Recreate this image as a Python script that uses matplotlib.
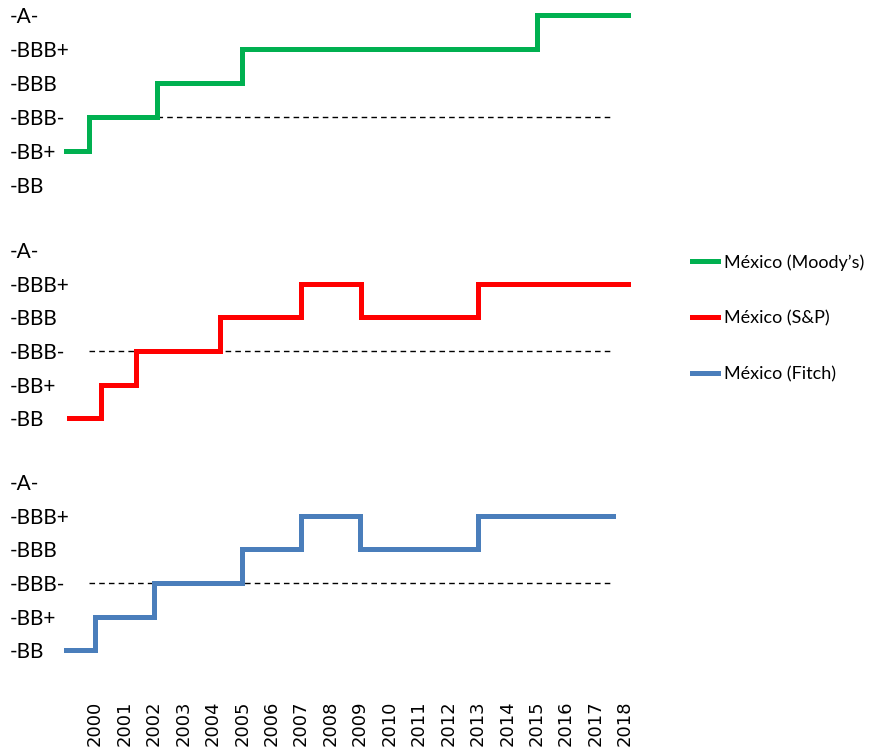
import matplotlib.pyplot as plt
from matplotlib.lines import Line2D

# Escala de calificaciones (de menor a mayor)
calificaciones = ["-BB", "-BB+", "-BBB-", "-BBB", "-BBB+", "-A-"]
anios = list(range(2000, 2019))

# Cambios de calificación: fecha (año fraccional) y nivel (índice en calificaciones)
moody_fechas = [1999.0, 1999.8, 2002.1, 2005.0, 2015.0, 2018.1]
moody_nivel = [1, 2, 3, 4, 5, 5]

sp_fechas = [1999.1, 2000.2, 2001.4, 2004.25, 2007.0, 2009.05, 2013.0, 2018.1]
sp_nivel = [0, 1, 2, 3, 4, 3, 4, 4]

fitch_fechas = [1999.0, 2000.0, 2002.0, 2005.0, 2007.0, 2009.0, 2013.0, 2017.6]
fitch_nivel = [0, 1, 2, 3, 4, 3, 4, 4]

# Línea punteada del grado de inversión (BBB-)
umbral_nivel = 2
umbral_inicio = [2002.1, 1999.8, 1999.8]
umbral_fin = [2017.6, 2017.6, 2017.6]

series = [
    ("México (Moody’s)", moody_fechas, moody_nivel, "#00B050"),
    ("México (S&P)", sp_fechas, sp_nivel, "#FF0000"),
    ("México (Fitch)", fitch_fechas, fitch_nivel, "#4A7EBB"),
]

W, H = 894, 751
fig = plt.figure(figsize=(W / 100, H / 100), dpi=100)
plt.rcParams["font.family"] = ["Lato", "DejaVu Sans"]

# Posiciones de los paneles en píxeles (arriba, abajo)
paneles = [(5, 202), (240, 435), (472, 667)]
x0, x1 = 60, 640
xlim = (2000 + (x0 - 95) / 29.44, 2000 + (x1 - 95) / 29.44)

handles = []
for i, ((nombre, fechas, nivel, color), (top, bottom)) in enumerate(zip(series, paneles)):
    ax = fig.add_axes([x0 / W, 1 - bottom / H, (x1 - x0) / W, (bottom - top) / H])
    ax.step(fechas, nivel, where="post", color=color, linewidth=3.6,
            solid_joinstyle="miter")
    ax.hlines(umbral_nivel, umbral_inicio[i], umbral_fin[i], colors="black",
              linestyles=(0, (4, 3)), linewidth=1, zorder=0)
    ax.set_xlim(*xlim)
    ax.set_ylim(-0.5, 5.3)
    ax.set_yticks(range(len(calificaciones)))
    ax.set_yticklabels(calificaciones, ha="left", fontsize=15)
    ax.tick_params(axis="y", length=0, pad=36)
    for s in ax.spines.values():
        s.set_visible(False)
    ax.set_xticks(anios)
    if i == 2:
        ax.set_xticklabels([str(a) for a in anios], rotation=90, fontsize=13,
                           family="DejaVu Sans", va="top")
        ax.tick_params(axis="x", length=0, pad=24)
    else:
        ax.set_xticklabels([])
        ax.tick_params(axis="x", length=0)
    handles.append(Line2D([], [], color=color, linewidth=3.6, label=nombre))

fig.legend(handles=handles, loc="upper left", bbox_to_anchor=(676 / W, 1 - 238 / H),
           frameon=False, fontsize=13, handlelength=1.45, handletextpad=0.3,
           labelspacing=2.2)

plt.savefig("out.png", dpi=100)
